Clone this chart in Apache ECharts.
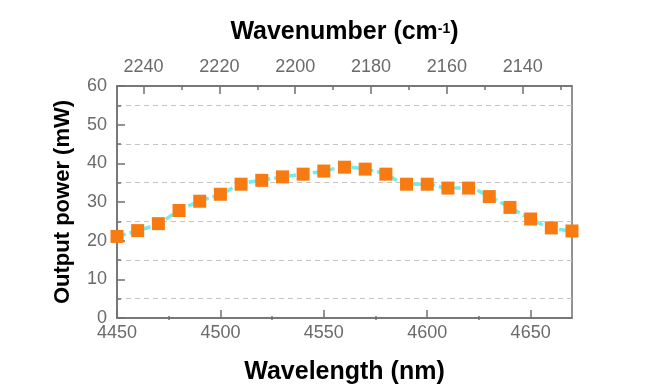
<!DOCTYPE html>
<html>
<head>
<meta charset="utf-8">
<script src="https://cdn.jsdelivr.net/npm/echarts@6/dist/echarts.min.js"></script>
<style>html,body{margin:0;padding:0;background:#fff;}#c{width:650px;height:390px;}</style>
</head>
<body>
<div id="c"></div>
<script>
// Data
const wavelengths = [4450,4460,4470,4480,4490,4500,4510,4520,4530,4540,4550,4560,4570,4580,4590,4600,4610,4620,4630,4640,4650,4660,4670];
const power = [21.1,22.6,24.4,27.8,30.2,32.0,34.6,35.6,36.5,37.2,38.0,39.0,38.5,37.2,34.6,34.6,33.6,33.6,31.4,28.6,25.6,23.3,22.5];
const xMajorTicks = [4450,4500,4550,4600,4650];
const xMinorTicks = [4475,4525,4575,4625];
const topMajorTicks = [2240,2220,2200,2180,2160,2140];
const topMinorTicks = [2230,2210,2190,2170,2150,2130];
const yTicks = [0,10,20,30,40,50,60];

const FONT = 'Liberation Sans, Arial, Helvetica, sans-serif';
const AX = '#707070';
const LBL = '#6a6a6a';
const gridRect = {left:117, right:78, top:86, bottom:70};
const plain = v => String(v);

const chart = echarts.init(document.getElementById('c'));
chart.setOption({
  backgroundColor:'#fff',
  animation:false,
  grid:[
    Object.assign({show:true, borderColor:AX, borderWidth:1.5}, gridRect),
    Object.assign({show:false}, gridRect)
  ],
  xAxis:[
    {gridIndex:0, type:'value', position:'bottom', min:4450, max:4670,
     axisLine:{show:true, lineStyle:{color:AX, width:1.5}},
     axisTick:{show:true, inside:true, length:8, customValues:xMajorTicks, lineStyle:{color:AX, width:1.5}},
     axisLabel:{customValues:xMajorTicks, formatter:plain, fontSize:18, color:LBL, margin:6, fontFamily:FONT},
     splitLine:{show:false},
     name:'Wavelength (nm)', nameLocation:'middle', nameGap:42,
     nameTextStyle:{fontSize:25, fontWeight:'bold', color:'#000', fontFamily:FONT}},
    {gridIndex:0, type:'value', position:'top', min:2127, max:2247, inverse:true,
     axisLine:{show:true, lineStyle:{color:AX, width:1.5}},
     axisTick:{show:true, inside:true, length:8, customValues:topMajorTicks, lineStyle:{color:AX, width:1.5}},
     axisLabel:{customValues:topMajorTicks, formatter:plain, fontSize:18, color:LBL, margin:10, fontFamily:FONT},
     splitLine:{show:false},
     name:'{a|Wavenumber (cm}{b|-1}{a|)}', nameLocation:'middle', nameGap:41,
     nameTextStyle:{fontFamily:FONT, rich:{
       a:{fontSize:25, fontWeight:'bold', color:'#000', fontFamily:FONT},
       b:{fontSize:14, fontWeight:'bold', color:'#000', fontFamily:FONT, verticalAlign:'top', padding:[2,0,0,0]}
     }}},
    {gridIndex:1, type:'value', position:'bottom', min:4450, max:4670,
     axisLine:{show:false},
     axisTick:{show:true, inside:true, length:4, customValues:xMinorTicks, lineStyle:{color:AX, width:1.5}},
     axisLabel:{show:false}, splitLine:{show:false}},
    {gridIndex:1, type:'value', position:'top', min:2127, max:2247, inverse:true,
     axisLine:{show:false},
     axisTick:{show:true, inside:true, length:4, customValues:topMinorTicks, lineStyle:{color:AX, width:1.5}},
     axisLabel:{show:false}, splitLine:{show:false}}
  ],
  yAxis:[
    {gridIndex:0, type:'value', min:yTicks[0], max:yTicks[yTicks.length-1], interval:10,
     axisLine:{show:true, lineStyle:{color:AX, width:1.5}},
     axisTick:{show:true, inside:true, length:8, lineStyle:{color:AX, width:1.5}},
     minorTick:{show:true, splitNumber:2, length:4, lineStyle:{color:AX, width:1.5}},
     minorSplitLine:{show:true, lineStyle:{color:'#c4c4c4', width:1, type:[5,4]}},
     splitLine:{show:false},
     axisLabel:{fontSize:18, color:LBL, margin:10, fontFamily:FONT},
     name:'Output power (mW)', nameLocation:'middle', nameGap:43,
     nameTextStyle:{fontSize:22, fontWeight:'bold', color:'#000', fontFamily:FONT}},
    {gridIndex:1, type:'value', min:0, max:60, show:false}
  ],
  series:[{
    type:'line', xAxisIndex:0, yAxisIndex:0,
    data: wavelengths.map((w,i)=>[w, power[i]]),
    smooth:0.35,
    symbol:'rect', symbolSize:13,
    itemStyle:{color:'#f77b10'},
    lineStyle:{color:'#6eeeee', width:3.5, type:[9,4]},
    z:3
  }]
});
</script>
</body>
</html>
